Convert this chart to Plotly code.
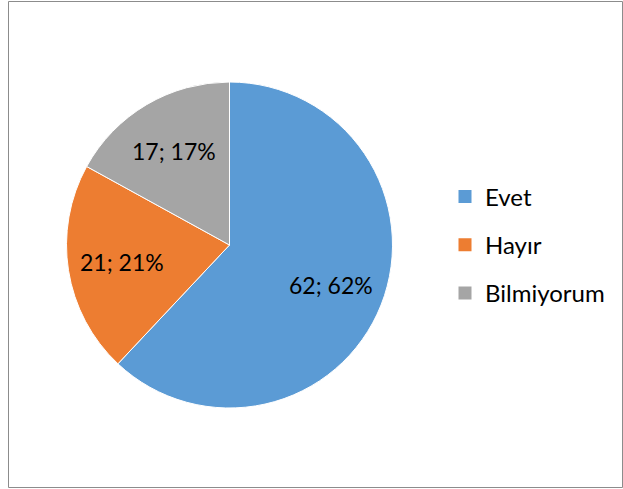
import math
import plotly.graph_objects as go

labels = ["Evet", "Hayır", "Bilmiyorum"]
values = [62, 21, 17]
colors = ["#5B9BD5", "#ED7D31", "#A5A5A5"]

W, H = 623, 489
FONT = "Lato, Calibri, Carlito, sans-serif"

# pie placement (pixels)
cx, cy, r = 229.5, 245.0, 163.0
dom_x = [(cx - r) / W, (cx + r) / W]
dom_y = [1 - (cy + r) / H, 1 - (cy - r) / H]

fig = go.Figure()
fig.add_trace(go.Pie(
    labels=labels, values=values, sort=False, direction="clockwise", rotation=0,
    marker=dict(colors=colors, line=dict(color="white", width=1)),
    textinfo="none", hoverinfo="label+value+percent", showlegend=False,
    domain=dict(x=dom_x, y=dom_y),
))

# data labels "value; percent" placed along each slice's mid-angle
total = sum(values)
annotations = []
cum = 0
for lab, v in zip(labels, values):
    mid = cum + v / 2
    cum += v
    ang = math.radians(90 - 360 * mid / total)
    px = cx + 0.67 * r * math.cos(ang)
    py = cy - 0.67 * r * math.sin(ang)
    annotations.append(dict(
        x=px / W, y=1 - py / H, xref="paper", yref="paper",
        text=f"{v}; {round(100 * v / total)}%", showarrow=False,
        font=dict(family=FONT, size=23, color="#000000"),
        xanchor="center", yanchor="middle",
    ))

# legend entries
for i, (lab, c) in enumerate(zip(labels, colors)):
    fig.add_trace(go.Scatter(
        x=[None], y=[None], mode="markers", name=lab, legendgroup=f"g{i}",
        marker=dict(symbol="square", size=13, color=c), showlegend=True,
    ))

fig.update_layout(
    width=W, height=H,
    margin=dict(l=0, r=0, t=0, b=0),
    paper_bgcolor="white", plot_bgcolor="white",
    xaxis=dict(visible=False), yaxis=dict(visible=False),
    annotations=annotations,
    legend=dict(
        x=445 / W, y=1 - 245 / H, xanchor="left", yanchor="middle",
        font=dict(family=FONT, size=24, color="#000000"),
        tracegroupgap=14, itemclick=False, bgcolor="rgba(0,0,0,0)",
    ),
    shapes=[dict(
        type="rect", xref="paper", yref="paper",
        x0=8.5 / W, x1=622.5 / W, y0=1 - 487.5 / H, y1=1 - 1.5 / H,
        line=dict(color="#8c8c8c", width=1), fillcolor="rgba(0,0,0,0)",
    )],
)

fig.write_html(
    "out.html",
    config={"displayModeBar": False},
    post_script="document.body.style.margin='0';document.body.style.overflow='hidden';",
)
